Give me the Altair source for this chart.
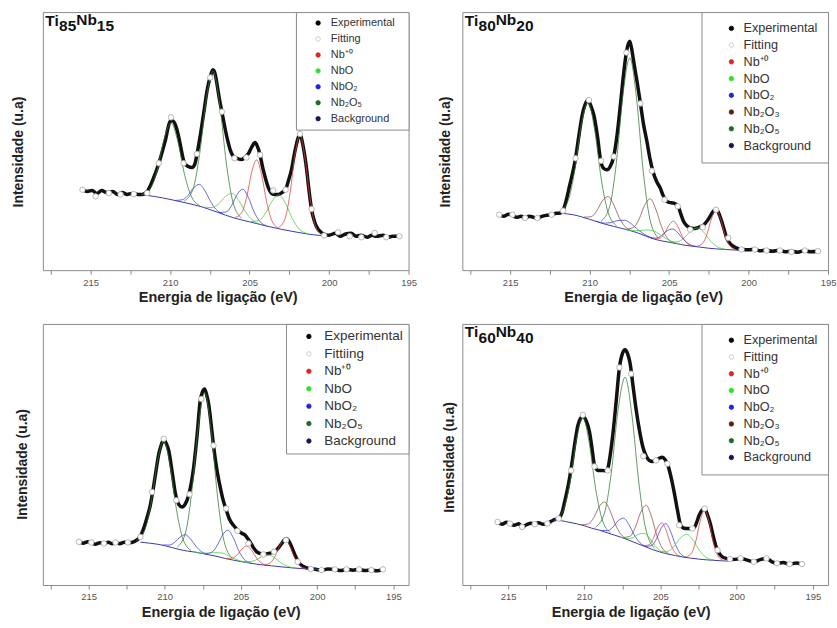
import altair as alt
import pandas as pd

FONT = "Liberation Sans"

# ---------------- legends / species ----------------
SPECIES = ["Nb⁺⁰", "NbO", "NbO₂", "Nb₂O₃", "Nb₂O₅"]
SPECIES_LINE = ["#e53b3b", "#3fcf3f", "#3a3ad2", "#8e4a42", "#2e7a32"]

LEG_A = ["Experimental\u2800", "Fitting", "Nb⁺⁰", "NbO", "NbO₂", "Nb₂O₅", "Background"]
LEG_A_FILL = ["#000000", "#ffffff", "#e02424", "#2ee02e", "#2424d6", "#1f6b25", "#141457"]
LEG_A_STROKE = ["#000000", "#c4c4c4", "#e02424", "#2ee02e", "#2424d6", "#1f6b25", "#141457"]
LEG_C = ["Experimental", "Fittiing", "Nb⁺⁰", "NbO", "NbO₂", "Nb₂O₅", "Background"]
LEG_B = ["Experimental", "Fitting", "Nb⁺⁰", "NbO", "NbO₂", "Nb₂O₃", "Nb₂O₅", "Background"]
LEG_B_FILL = ["#000000", "#ffffff", "#e02424", "#2ee02e", "#2424d6", "#5a1f18", "#1f6b25", "#141457"]
LEG_B_STROKE = ["#000000", "#c4c4c4", "#e02424", "#2ee02e", "#2424d6", "#5a1f18", "#1f6b25", "#141457"]

TICKS = [195.0, 197.5, 200.0, 202.5, 205.0, 207.5, 210.0, 212.5, 215.0, 217.5]

# ================= Panel 1 : Ti85Nb15 =================
p1_exp_ev = [215.5, 215.2, 214.9, 214.6, 214.3, 214.0, 213.6, 213.3, 213.0, 212.7, 212.4, 212.0, 211.75,
             211.44, 211.1, 210.71, 210.3, 210.0, 209.85, 209.6, 209.46, 209.08, 208.85, 208.62, 208.45,
             208.31, 208.1, 207.89, 207.65, 207.47, 207.3, 207.15, 207.05, 206.9, 206.74, 206.43, 206.2,
             206.01, 205.75, 205.49, 205.25, 205.07, 204.85, 204.65, 204.5, 204.34, 204.2, 204.03, 203.8,
             203.61, 203.4, 203.19, 202.95, 202.73, 202.55, 202.36, 202.2, 202.04, 201.83, 201.7, 201.52,
             201.4, 201.31, 201.1, 200.9, 200.69, 200.5, 200.27, 200.0, 199.6, 199.3, 199.0, 198.6, 198.3,
             198.0, 197.6, 197.3, 197.0, 196.6, 196.3, 196.0, 195.6]
p1_exp_y = [81, 79, 80, 77, 80, 78, 79, 76, 78, 76, 77, 76, 76, 79, 90, 107, 130, 149, 150, 143, 134, 107,
            104, 103, 106, 116, 135, 157, 182, 194, 201, 196, 187, 172, 159, 134, 120, 114, 112, 111, 114,
            117, 124, 128, 124, 116, 105, 94, 82, 77, 76, 76, 78, 81, 90, 101, 115, 127, 137, 130, 114, 100,
            87, 61, 48, 41, 38, 36, 35, 37, 34, 36, 37, 34, 35, 33, 35, 34, 35, 33, 34, 34]
p1_fit_ev = [215.51, 214.68, 213.85, 213.11, 212.28, 211.44, 210.71, 209.94, 209.15, 208.31, 207.47, 206.74,
             205.95, 205.2, 204.34, 203.51, 202.73, 201.83, 201.10, 200.31, 199.43, 198.70, 197.97, 197.13,
             196.40, 195.57]
p1_fit_y = [80.7, 74, 77.3, 76, 76.3, 77.3, 107.3, 153.3, 107.3, 116.7, 193.3, 159, 112.3, 113, 115.7, 80,
            80.7, 136.7, 61.3, 34.7, 38, 34, 33, 37.3, 33, 34]
p1_bg_ev = [211.8, 211.0, 210.0, 209.0, 208.0, 207.0, 206.0, 205.0, 204.0, 203.0, 202.0, 201.0, 200.3]
p1_bg_y = [75.8, 74, 71, 67.5, 63.5, 58, 52.5, 48.5, 44.5, 41, 38, 35.5, 34.5]
p1_nb2o5_ev = [[208.14, 208.68, 209.10, 209.52, 209.94, 210.36, 210.78, 211.20, 211.74],
               [205.50, 206.04, 206.46, 206.88, 207.30, 207.72, 208.14, 208.56, 209.10]]
p1_nb2o5_y = [[64.8, 74.7, 96.8, 129.7, 147.8, 132.4, 102.3, 82.9, 76.3],
              [52.0, 68.1, 107.3, 166.9, 199.8, 171.7, 116.5, 81.1, 69.4]]
p1_nbo2_ev = [[206.66, 207.11, 207.46, 207.81, 208.16, 208.51, 208.86, 209.21, 209.66],
              [203.93, 204.38, 204.73, 205.08, 205.43, 205.78, 206.13, 206.48, 206.93]]
p1_nbo2_y = [[56.2, 61.1, 69.1, 79.8, 86.1, 82.7, 75.3, 70.7, 70.0],
             [44.5, 49.4, 59.0, 73.1, 81.2, 75.9, 64.8, 58.3, 57.9]]
p1_nbo_ev = [[204.30, 204.84, 205.26, 205.68, 206.10, 206.52, 206.94, 207.36, 207.90],
             [201.35, 201.89, 202.31, 202.73, 203.15, 203.57, 203.99, 204.41, 204.95]]
p1_nbo_y = [[46.0, 50.5, 58.5, 70.0, 77.0, 73.9, 66.6, 62.8, 63.3],
            [36.7, 41.4, 51.7, 66.8, 75.5, 69.6, 57.3, 49.8, 48.7]]
p1_nb0_ev = [[203.20, 203.61, 203.92, 204.24, 204.55, 204.87, 205.18, 205.50, 205.90],
             [200.48, 200.89, 201.20, 201.52, 201.83, 202.15, 202.46, 202.78, 203.18]]
p1_nb0_y = [[42.3, 50.1, 68.2, 95.6, 110.7, 98.1, 73.2, 57.5, 52.8],
            [35.8, 46.1, 72.8, 113.4, 135.5, 115.1, 76.2, 51.2, 42.7]]

# ================= Panel 2 : Ti80Nb20 =================
p2_exp_ev = [215.68, 215.4, 215.1, 214.85, 214.6, 214.3, 214.05, 213.8, 213.5, 213.28, 213.0, 212.7, 212.38,
             212.1, 211.82, 211.61, 211.25, 210.88, 210.65, 210.46, 210.28, 210.11, 209.92, 209.73, 209.5,
             209.31, 209.1, 208.9, 208.7, 208.48, 208.25, 208.06, 207.85, 207.68, 207.47, 207.35, 207.22,
             207.0, 206.8, 206.6, 206.39, 206.2, 206.01, 205.78, 205.55, 205.4, 205.24, 205.0, 204.72, 204.55,
             204.4, 204.25, 204.09, 203.88, 203.67, 203.46, 203.26, 203.05, 202.84, 202.62, 202.42, 202.22,
             202.04, 201.87, 201.69, 201.52, 201.38, 201.17, 200.96, 200.65, 200.33, 200.0, 199.6, 199.3,
             198.9, 198.5, 198.1, 197.7, 197.3, 196.9, 196.5, 196.1, 195.63]
p2_exp_y = [56, 54, 56, 55, 53, 54, 52, 54, 53, 52, 54, 55, 55.5, 57, 57.3, 62.3, 85, 112.3, 137, 155.7, 166,
            170.7, 165, 155.7, 134, 110.7, 102, 100.7, 104, 114, 138, 165.7, 198, 219, 229.7, 222, 209, 188,
            167.3, 146, 129, 112, 99, 89, 82.3, 76, 70.7, 68, 67.3, 66, 63, 56, 49, 44.5, 42.3, 41.7, 42.3,
            43.5, 45, 49, 54, 59, 61.3, 57, 49, 40, 32.3, 27, 24, 21.5, 20.7, 20.5, 21, 19.5, 20, 19, 20,
            18.5, 19, 18, 19.5, 18.5, 19]
p2_fit_ev = [215.68, 214.85, 214.05, 213.28, 212.38, 211.67, 210.88, 210.04, 209.27, 208.48, 207.68, 206.8,
             206.08, 205.28, 204.45, 203.67, 202.88, 202.04, 201.27, 200.44, 199.6, 198.87, 198.03, 197.3,
             196.46, 195.63]
p2_fit_y = [55.7, 55.7, 52.3, 52.3, 55.7, 59.7, 112.3, 170.7, 109.7, 114, 218.3, 167.3, 99.7, 70.7, 64, 40.7,
            43, 60.7, 32.3, 20.7, 20.7, 19.7, 19.7, 18.3, 19.7, 19]
p2_bg_ev = [211.8, 211.0, 210.5, 210.0, 209.5, 209.0, 208.5, 208.0, 207.5, 207.0, 206.5, 206.0, 205.5, 205.0,
            204.5, 204.0, 203.5, 203.0, 202.5, 202.0, 201.5, 201.0, 200.3]
p2_bg_y = [57, 55.5, 53.5, 51, 48.5, 46, 44, 42, 40, 37.5, 34.5, 31.5, 29.5, 28, 26.5, 25, 24, 23, 22, 21.3,
           20.8, 20.3, 19.7]
p2_nb2o5_ev = [[208.30, 208.84, 209.26, 209.68, 210.10, 210.52, 210.94, 211.36, 211.90],
               [205.67, 206.21, 206.63, 207.05, 207.47, 207.89, 208.31, 208.73, 209.27]]
p2_nb2o5_y = [[44.5, 58.3, 91.2, 141.0, 168.5, 145.2, 99.2, 69.1, 58.4],
              [32.1, 51.8, 100.2, 173.3, 212.9, 177.1, 108.1, 64.0, 49.2]]
p2_nb2o3_ev = [[207.35, 207.80, 208.15, 208.50, 208.85, 209.20, 209.55, 209.90, 210.35],
               [204.68, 205.13, 205.48, 205.83, 206.18, 206.53, 206.88, 207.23, 207.68]]
p2_nb2o3_y = [[39.6, 44.3, 53.3, 66.3, 73.9, 69.3, 59.5, 53.6, 53.2],
              [27.4, 32.7, 44.0, 61.1, 71.6, 65.2, 51.4, 42.9, 41.1]]
p2_nbo2_ev = [[205.99, 206.53, 206.95, 207.37, 207.79, 208.21, 208.63, 209.05, 209.59],
              [203.28, 203.73, 204.08, 204.43, 204.78, 205.13, 205.48, 205.83, 206.28]]
p2_nbo2_y = [[31.5, 35.7, 40.6, 46.4, 50.1, 49.8, 47.9, 47.2, 49.1],
             [23.8, 26.0, 30.5, 37.3, 41.3, 39.4, 34.7, 32.1, 33.4]]
p2_nb0_ev = [[203.52, 203.88, 204.16, 204.44, 204.72, 205.00, 205.28, 205.56, 205.92],
             [200.84, 201.20, 201.48, 201.76, 202.04, 202.32, 202.60, 202.88, 203.24]]
p2_nb0_y = [[24.2, 27.1, 33.8, 43.5, 49.2, 45.2, 37.1, 32.1, 31.3],
            [20.6, 24.8, 35.4, 51.5, 60.3, 52.2, 36.8, 27.1, 23.9]]
p2_nbo_ev = [[204.21, 204.75, 205.17, 205.59, 206.01, 206.43, 206.85, 207.27, 207.81],
             [201.41, 201.95, 202.37, 202.79, 203.21, 203.63, 204.05, 204.47, 205.01]]
p2_nbo_y = [[25.7, 28.2, 31.5, 36.1, 39.6, 40.4, 39.6, 39.7, 41.3],
            [20.9, 23.3, 28.9, 37.5, 42.4, 39.2, 32.3, 28.5, 28.2]]

# ================= Panel 3 (no title) =================
p3_exp_ev = [215.63, 215.35, 215.05, 214.82, 214.55, 214.25, 213.99, 213.7, 213.45, 213.23, 212.95, 212.65,
             212.36, 212.0, 211.59, 211.36, 211.15, 210.95, 210.79, 210.59, 210.39, 210.22, 210.07, 209.9,
             209.74, 209.52, 209.30, 209.08, 208.86, 208.65, 208.43, 208.25, 208.10, 207.88, 207.67, 207.52,
             207.38, 207.25, 207.12, 206.96, 206.80, 206.58, 206.36, 206.18, 205.99, 205.75, 205.49, 205.16,
             204.95, 204.72, 204.55, 204.40, 204.18, 203.96, 203.7, 203.42, 203.1, 202.81, 202.55, 202.32,
             202.15, 202.0, 201.85, 201.67, 201.45, 201.24, 200.9, 200.58, 200.2, 199.71, 199.3, 198.84,
             198.45, 198.07, 197.65, 197.25, 196.85, 196.44, 196.05, 195.68]
p3_exp_y = [43.3, 42, 43.5, 42.5, 41, 42.5, 41.7, 43, 41.5, 42.5, 41.5, 43, 42.3, 43.5, 49.3, 58, 68.3, 80,
            93.3, 113, 131.7, 141, 146, 142, 135, 114, 91.7, 81, 78.3, 81.5, 90, 103, 118.3, 150, 185, 194,
            196.7, 191, 181.7, 162, 140, 116, 98.3, 86, 76.7, 66, 60, 54.3, 52, 50, 46.5, 43.3, 37.5, 33.3,
            31.5, 31, 32, 33.3, 37, 41.7, 45.5, 46.7, 44, 38.3, 30, 23.3, 18.5, 16.7, 16, 15, 16, 15.7, 14.5,
            15.7, 14.8, 15.7, 14.5, 15, 14.3, 15.7]
p3_fit_ev = [215.63, 214.82, 213.99, 213.23, 212.42, 211.59, 210.83, 210.07, 209.24, 208.37, 207.60, 206.80,
             205.97, 205.23, 204.51, 203.53, 202.83, 202.04, 201.28, 200.41, 199.71, 198.84, 198.07, 197.25,
             196.44, 195.68]
p3_fit_y = [43.3, 42.7, 41.7, 42.7, 42.7, 48.3, 93.3, 146.7, 85, 91, 186.7, 140, 76.7, 54.3, 41.7, 30.7, 33.3,
            45, 23.3, 16, 15, 15.7, 15.7, 15.7, 15, 15.7]
p3_bg_ev = [211.6, 211.0, 210.5, 210.0, 209.5, 209.0, 208.5, 208.0, 207.5, 207.0, 206.5, 206.0, 205.5, 205.0,
            204.5, 204.0, 203.5, 203.0, 202.5, 202.0, 201.5, 201.0, 200.5, 199.9]
p3_bg_y = [43, 42, 41, 39.5, 37.5, 35.5, 34, 33, 31.5, 30, 28.5, 26.5, 25, 23.5, 22.3, 21, 20, 19.3, 18.5,
           17.7, 17, 16.5, 16, 15.7]
p3_nb2o5_ev = [[208.27, 208.81, 209.23, 209.65, 210.07, 210.49, 210.91, 211.33, 211.87],
               [205.58, 206.12, 206.54, 206.96, 207.38, 207.80, 208.22, 208.64, 209.18]]
p3_nb2o5_y = [[34.6, 46.4, 75.6, 119.9, 144.2, 122.8, 81.0, 54.2, 44.3],
              [27.0, 44.8, 89.4, 156.7, 193.1, 159.2, 94.3, 52.2, 38.0]]
p3_nbo2_ev = [[207.15, 207.60, 207.95, 208.30, 208.65, 209.00, 209.35, 209.70, 210.15],
              [204.36, 204.81, 205.16, 205.51, 205.86, 206.21, 206.56, 206.91, 207.36]]
p3_nbo2_y = [[30.7, 33.6, 38.8, 46.1, 50.5, 48.0, 42.9, 40.1, 40.2],
             [22.1, 26.2, 34.9, 47.7, 55.1, 50.1, 39.6, 32.9, 31.4]]
p3_nbo_ev = [[204.45, 204.99, 205.41, 205.83, 206.25, 206.67, 207.09, 207.51, 208.05],
             [201.40, 201.94, 202.36, 202.78, 203.20, 203.62, 204.04, 204.46, 205.00]]
p3_nbo_y = [[22.2, 24.0, 26.4, 29.5, 32.1, 32.5, 32.0, 32.0, 33.2],
            [17.0, 18.8, 22.2, 27.2, 30.1, 28.5, 25.0, 23.4, 23.6]]
p3_nb0_ev = [[203.26, 203.66, 203.98, 204.30, 204.61, 204.93, 205.24, 205.56, 205.96],
             [200.76, 201.17, 201.48, 201.80, 202.11, 202.43, 202.74, 203.06, 203.46]]
p3_nb0_y = [[19.9, 22.1, 27.1, 34.7, 39.1, 36.2, 30.4, 27.0, 26.6],
            [16.6, 19.8, 27.5, 39.3, 45.9, 40.3, 29.4, 22.5, 20.2]]

# ================= Panel 4 : Ti60Nb40 =================
p4_exp_ev = [215.69, 215.4, 215.1, 214.88, 214.6, 214.3, 214.08, 213.8, 213.5, 213.25, 213.0, 212.7, 212.42,
             212.05, 211.68, 211.45, 211.29, 211.05, 210.86, 210.62, 210.42, 210.25, 210.09, 209.88, 209.65,
             209.48, 209.33, 209.1, 208.78, 208.6, 208.46, 208.3, 208.13, 207.9, 207.69, 207.5, 207.32,
             207.15, 207.0, 206.8, 206.6, 206.35, 206.12, 205.92, 205.73, 205.5, 205.29, 205.05, 204.86,
             204.7, 204.54, 204.3, 204.10, 203.88, 203.67, 203.45, 203.23, 203.0, 202.79, 202.62, 202.46,
             202.28, 202.10, 201.9, 201.70, 201.55, 201.38, 201.15, 200.94, 200.6, 200.29, 199.95, 199.74,
             199.3, 198.87, 198.45, 198.04, 197.7, 197.35, 196.95, 196.52, 196.1, 195.71]
p4_exp_y = [63.3, 61, 63, 61.7, 60, 61.5, 58.3, 60.5, 62, 61, 62.5, 61, 61.7, 65, 66.7, 73, 83.3, 100, 116.7,
            142, 160, 167, 170, 165, 153.3, 136, 120, 115, 115, 114.5, 116.7, 130, 150, 185, 218.3, 232, 236,
            232, 223.3, 200, 176.7, 153, 136.7, 129, 125, 124, 125, 127.5, 128.3, 126, 121.7, 108, 93.3, 75,
            60, 57, 56.7, 56.5, 57.3, 63, 70, 75, 76.7, 70, 60, 50, 40, 32, 28.3, 26.5, 25.7, 26, 26.7, 25,
            23.3, 25.5, 26.7, 23.5, 21.7, 22.5, 21, 22, 21]
p4_fit_ev = [215.69, 214.88, 214.08, 213.25, 212.42, 211.68, 210.86, 210.09, 209.33, 208.46, 207.69, 206.92,
             206.12, 205.29, 204.54, 203.77, 202.9, 202.10, 201.25, 200.44, 199.74, 198.87, 198.04, 197.35,
             196.52, 195.71]
p4_fit_y = [63.3, 61.7, 58.3, 61, 61.7, 66.7, 115, 170.7, 119, 115, 218.3, 212, 129.3, 125, 121.7, 60, 56.7,
            76.7, 35, 26, 26.7, 23.3, 26.7, 21.7, 21, 21]
p4_bg_ev = [212.0, 211.5, 211.0, 210.5, 210.0, 209.5, 209.0, 208.5, 208.0, 207.5, 207.0, 206.5, 206.0, 205.5,
            205.0, 204.5, 204.0, 203.5, 203.0, 202.5, 202.0, 201.5, 201.0, 200.5]
p4_bg_y = [65, 64.5, 63, 61.5, 59.5, 57, 55, 52.5, 50, 47.5, 44.5, 41.5, 38.5, 35.5, 33, 31, 29.5, 28, 27, 26,
           25.3, 24.8, 24.3, 24]
p4_nb2o5_ev = [[208.29, 208.83, 209.25, 209.67, 210.09, 210.51, 210.93, 211.35, 211.89],
               [205.37, 205.96, 206.41, 206.87, 207.32, 207.78, 208.23, 208.69, 209.27]]
p4_nb2o5_y = [[52.7, 66.1, 96.5, 142.4, 167.8, 146.1, 103.3, 75.9, 66.1],
              [36.7, 56.1, 101.8, 170.5, 208.4, 175.7, 112.0, 71.4, 58.0]]
p4_nb2o3_ev = [[207.17, 207.62, 207.97, 208.32, 208.67, 209.02, 209.37, 209.72, 210.17],
               [204.44, 204.89, 205.24, 205.59, 205.94, 206.29, 206.64, 206.99, 207.44]]
p4_nb2o3_y = [[45.8, 51.4, 61.2, 75.1, 83.4, 78.6, 67.8, 61.3, 60.4],
              [31.3, 37.2, 49.9, 68.9, 80.1, 73.1, 58.1, 49.0, 47.7]]
p4_nbo2_ev = [[205.92, 206.37, 206.72, 207.07, 207.42, 207.77, 208.12, 208.47, 208.92],
              [203.30, 203.71, 204.02, 204.34, 204.65, 204.97, 205.28, 205.60, 206.00]]
p4_nbo2_y = [[38.2, 42.9, 50.3, 60.6, 67.0, 64.6, 58.1, 54.6, 54.9],
             [27.9, 31.9, 40.8, 54.0, 61.6, 56.4, 45.6, 39.4, 38.8]]
p4_nb0_ev = [[203.71, 204.07, 204.35, 204.63, 204.91, 205.19, 205.47, 205.75, 206.11],
             [200.90, 201.26, 201.54, 201.82, 202.10, 202.38, 202.66, 202.94, 203.30]]
p4_nb0_y = [[28.9, 33.0, 41.9, 55.0, 62.6, 57.4, 46.6, 40.3, 39.4],
            [24.8, 30.1, 43.6, 64.3, 75.4, 65.0, 45.1, 32.4, 28.2]]
p4_nbo_ev = [[204.56, 205.01, 205.36, 205.71, 206.06, 206.41, 206.76, 207.11, 207.56],
             [201.48, 202.02, 202.44, 202.86, 203.28, 203.70, 204.12, 204.54, 205.08]]
p4_nbo_y = [[31.3, 34.4, 39.6, 47.0, 51.9, 51.2, 47.9, 46.6, 47.9],
            [25.1, 27.9, 34.7, 45.1, 50.9, 47.0, 38.6, 33.8, 33.7]]


# ---------------- helpers ----------------
def comp_frame(groups):
    rows = []
    for species, evs_list, ys_list in groups:
        for k, (evs, ys) in enumerate(zip(evs_list, ys_list)):
            assert len(evs) == len(ys)
            for e, v in zip(evs, ys):
                rows.append({"ev": e, "y": v, "species": species, "peak": f"{species}-{k}"})
    return pd.DataFrame(rows)


def make_panel(exp, fit, bg, comps, ev_min, h, leg_labels, leg_fill, leg_stroke, leg_style,
               title_parts, ypad, ytitle_y, xtitle_x):
    x_enc = alt.X(
        "ev:Q",
        scale=alt.Scale(domain=[ev_min, 218], reverse=True, nice=False, zero=False),
        axis=alt.Axis(values=TICKS, labelExpr="datum.value % 5 == 0 ? format(datum.value, 'd') : ''",
                      labelFont=FONT, labelFontSize=9.5, labelColor="#555555", labelPadding=3,
                      labelFlush=False, labelOverlap=False, tickColor="#888888", tickSize=4,
                      tickWidth=1, domain=False, grid=False,
                      title="Energia de ligação (eV)", titleFont=FONT, titleFontSize=14.5,
                      titleFontWeight="bold", titleColor="#222222", titlePadding=4, titleX=xtitle_x))
    y_enc = alt.Y(
        "y:Q",
        scale=alt.Scale(domain=[0, h], nice=False, zero=False),
        axis=alt.Axis(labels=False, ticks=False, domain=False, grid=False,
                      title="Intensidade (u.a)", titleFont=FONT, titleFontSize=14,
                      titleFontWeight="bold", titleColor="#222222", titlePadding=ypad, titleY=ytitle_y))
    order = alt.Order("ev:Q", sort="descending")

    exp_layer = alt.Chart(pd.DataFrame({"ev": exp[0], "y": exp[1]})).mark_line(
        color="#111111", strokeWidth=3.5, interpolate="monotone").encode(x=x_enc, y=y_enc, order=order)
    bg_layer = alt.Chart(pd.DataFrame({"ev": bg[0], "y": bg[1]})).mark_line(
        color="#3a3aa8", strokeWidth=1, interpolate="monotone").encode(x=x_enc, y=y_enc, order=order)
    comp_layer = alt.Chart(comp_frame(comps)).mark_line(
        strokeWidth=1, opacity=0.75, interpolate="monotone").encode(
        x=x_enc, y=y_enc, order=order,
        color=alt.Color("species:N", scale=alt.Scale(domain=SPECIES, range=SPECIES_LINE), legend=None),
        detail="peak:N")
    fit_layer = alt.Chart(pd.DataFrame({"ev": fit[0], "y": fit[1]})).mark_point(
        filled=True, fill="white", stroke="#b0b0b0", strokeWidth=0.9, size=30, opacity=1).encode(
        x=x_enc, y=y_enc)

    leg = alt.Legend(orient="top-right", offset=0, title=None, padding=leg_style["pad"],
                     rowPadding=leg_style["row"], labelFontSize=leg_style["fs"], labelFont=FONT,
                     labelColor="#333333", symbolType="circle", symbolSize=20, symbolStrokeWidth=0.8,
                     symbolOffset=leg_style["so"], labelOffset=leg_style["lo"], strokeColor="#8c8c8c",
                     fillColor="white", symbolOpacity=1, labelLimit=300, cornerRadius=0)
    leg_layer = alt.Chart(pd.DataFrame({"label": leg_labels})).mark_point(
        filled=True, size=1).encode(
        x=alt.value(340), y=alt.value(50),
        fill=alt.Fill("label:N", scale=alt.Scale(domain=leg_labels, range=leg_fill), legend=leg),
        stroke=alt.Stroke("label:N", scale=alt.Scale(domain=leg_labels, range=leg_stroke), legend=leg))

    layers = [exp_layer, bg_layer, comp_layer, fit_layer, leg_layer]
    for txt, px, py in title_parts:
        layers.append(alt.Chart(pd.DataFrame({"t": [txt]})).mark_text(
            align="left", baseline="alphabetic", font=FONT, fontSize=15.5, fontWeight="bold",
            color="#111111").encode(x=alt.value(px), y=alt.value(py), text="t:N"))
    return alt.layer(*layers).properties(width=367, height=h)


def title_parts(a, b):
    return [("Ti", 2.5, 13.5), (a, 16.3, 19), ("Nb", 33.5, 13), (b, 54.2, 19)]


STYLE_1 = {"pad": 5.5, "row": 4, "fs": 11, "so": 11.25, "lo": 7.25}
STYLE_2 = {"pad": 10, "row": 2.8, "fs": 12.7, "so": 13.65, "lo": 5.85}
STYLE_3 = {"pad": 5.75, "row": 2.5, "fs": 13.5, "so": 10.5, "lo": 8.7}

p1 = make_panel((p1_exp_ev, p1_exp_y), (p1_fit_ev, p1_fit_y), (p1_bg_ev, p1_bg_y),
                [("Nb₂O₅", p1_nb2o5_ev, p1_nb2o5_y), ("NbO₂", p1_nbo2_ev, p1_nbo2_y),
                 ("NbO", p1_nbo_ev, p1_nbo_y), ("Nb⁺⁰", p1_nb0_ev, p1_nb0_y)],
                195, 259, LEG_A, LEG_A_FILL, LEG_A_STROKE, STYLE_1, title_parts("85", "15"),
                17, 140, 175.5)
p2 = make_panel((p2_exp_ev, p2_exp_y), (p2_fit_ev, p2_fit_y), (p2_bg_ev, p2_bg_y),
                [("Nb₂O₅", p2_nb2o5_ev, p2_nb2o5_y), ("Nb₂O₃", p2_nb2o3_ev, p2_nb2o3_y),
                 ("NbO₂", p2_nbo2_ev, p2_nbo2_y), ("NbO", p2_nbo_ev, p2_nbo_y),
                 ("Nb⁺⁰", p2_nb0_ev, p2_nb0_y)],
                195, 259, LEG_B, LEG_B_FILL, LEG_B_STROKE, STYLE_2, title_parts("80", "20"),
                10, 140, 181.5)
p3 = make_panel((p3_exp_ev, p3_exp_y), (p3_fit_ev, p3_fit_y), (p3_bg_ev, p3_bg_y),
                [("Nb₂O₅", p3_nb2o5_ev, p3_nb2o5_y), ("NbO₂", p3_nbo2_ev, p3_nbo2_y),
                 ("NbO", p3_nbo_ev, p3_nbo_y), ("Nb⁺⁰", p3_nb0_ev, p3_nb0_y)],
                194, 262, LEG_C, LEG_A_FILL, LEG_A_STROKE, STYLE_3, [],
                13.5, 140.5, 178.5)
p4 = make_panel((p4_exp_ev, p4_exp_y), (p4_fit_ev, p4_fit_y), (p4_bg_ev, p4_bg_y),
                [("Nb₂O₅", p4_nb2o5_ev, p4_nb2o5_y), ("Nb₂O₃", p4_nb2o3_ev, p4_nb2o3_y),
                 ("NbO₂", p4_nbo2_ev, p4_nbo2_y), ("NbO", p4_nbo_ev, p4_nbo_y),
                 ("Nb⁺⁰", p4_nb0_ev, p4_nb0_y)],
                194, 262, LEG_B, LEG_B_FILL, LEG_B_STROKE, STYLE_2, title_parts("60", "40"),
                6, 133.5, 169)

RES = dict(x="independent", y="independent", color="independent", fill="independent",
           stroke="independent")
chart = alt.concat(p1, p2, p3, p4, columns=2, spacing=54, bounds="flush").resolve_scale(**RES).properties(
    padding={"left": 11, "top": 10, "right": 0, "bottom": 0}
).configure(font=FONT).configure_view(stroke="#8c8c8c", strokeWidth=1)

chart.save("out.html", embed_options={"renderer": "svg", "actions": False})
